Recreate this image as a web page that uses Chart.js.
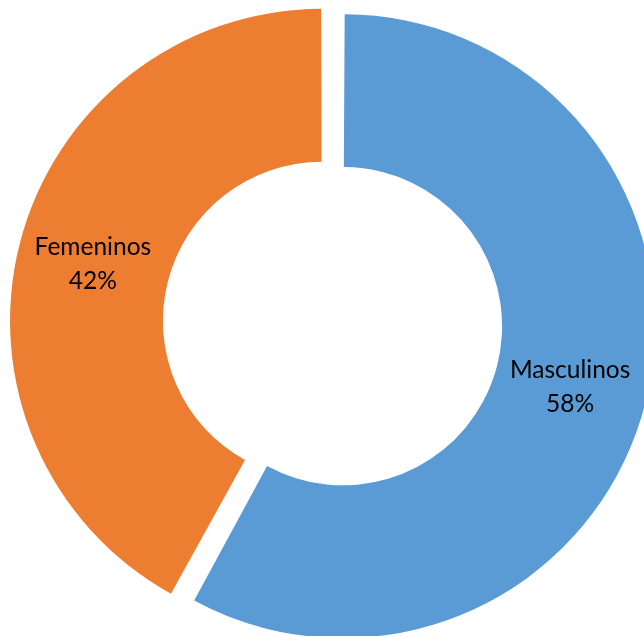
<!DOCTYPE html>
<html>
<head>
<meta charset="utf-8">
<script src="https://cdn.jsdelivr.net/npm/chart.js@4"></script>
<style>
html,body{margin:0;padding:0;overflow:hidden;background:#fff;width:644px;height:636px;}
#wrap{position:absolute;left:0;top:0;width:665px;height:647px;}
</style>
</head>
<body>
<div id="wrap"><canvas id="c"></canvas></div>
<script>
const categories = ["Masculinos", "Femeninos"];
const values = [58, 42];
const percentLabels = ["58%", "42%"];
const colors = ["#5B9BD5", "#ED7D31"];

// Chart.js 4.5 grows the drawn radii of an offset arc by offset/4*(1-sin(min(PI,circ)));
function radiusGrow(arc) {
  const s = (arc.options.offset || 0) / 4;
  return s * (1 - Math.sin(Math.min(Math.PI, arc.circumference || 0)));
}
// undo that growth so both exploded slices keep the same ring radii (as in the original).
const equalRadiiPlugin = {
  id: 'equalRadii',
  afterDatasetUpdate(chart, args) {
    const meta = chart.getDatasetMeta(args.index);
    meta.data.forEach(arc => {
      const g = radiusGrow(arc);
      arc.outerRadius -= g;
      arc.innerRadius -= g;
    });
  }
};

const labelPlugin = {
  id: 'sliceLabels',
  afterDatasetsDraw(chart) {
    const ctx = chart.ctx;
    const meta = chart.getDatasetMeta(0);
    meta.data.forEach((arc, i) => {
      const mid = (arc.startAngle + arc.endAngle) / 2;
      const shift = (arc.options.offset || 0) / 4;
      const r = (arc.innerRadius + arc.outerRadius) / 2 + radiusGrow(arc);
      const cx = arc.x + Math.cos(mid) * (r + shift);
      const cy = arc.y + Math.sin(mid) * (r + shift);
      ctx.save();
      ctx.fillStyle = '#000';
      ctx.font = '24.5px Lato, "Open Sans", sans-serif';
      ctx.textAlign = 'center';
      ctx.textBaseline = 'alphabetic';
      ctx.fillText(categories[i], cx - 1, cy - 7);
      ctx.fillText(percentLabels[i], cx - 1, cy + 27);
      ctx.restore();
    });
  }
};

new Chart(document.getElementById('c'), {
  type: 'doughnut',
  data: {
    labels: categories,
    datasets: [{
      data: values,
      backgroundColor: colors,
      borderWidth: 0,
      offset: 43.2,
      hoverOffset: 0
    }]
  },
  options: {
    responsive: true,
    maintainAspectRatio: false,
    animation: false,
    radius: 312,
    cutout: '51%',
    layout: { padding: 0 },
    plugins: {
      legend: { display: false },
      tooltip: { enabled: false }
    },
    events: []
  },
  plugins: [equalRadiiPlugin, labelPlugin]
});
</script>
</body>
</html>
